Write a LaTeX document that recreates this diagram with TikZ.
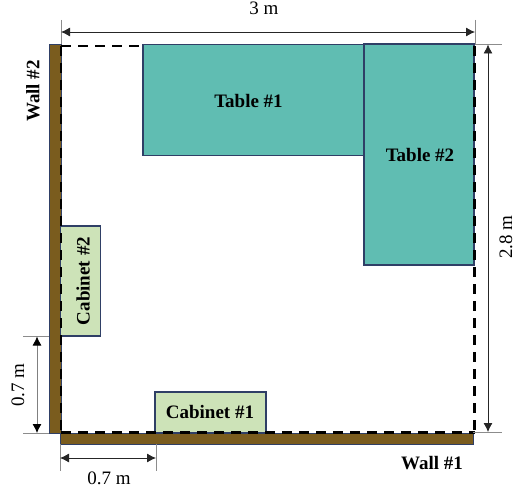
\documentclass[tikz,border=0pt]{standalone}
\usepackage{fontspec}
\setmainfont{Liberation Serif}
\usetikzlibrary{arrows.meta}
\definecolor{edgeblue}{HTML}{2F3F66}
\definecolor{tealfill}{HTML}{60BDB2}
\definecolor{cabfill}{HTML}{CDE3B8}
\definecolor{wallfill}{HTML}{7A5C1E}
\definecolor{extgray}{HTML}{8C8C8C}
\tikzset{
  x=1pt,y=-1pt,
  furniture/.style={draw=edgeblue,line width=1.1pt,inner sep=0pt,text=black},
  tablebox/.style={furniture,fill=tealfill},
  cabinetbox/.style={furniture,fill=cabfill},
  wallbox/.style={draw=edgeblue,line width=0.9pt,fill=wallfill,inner sep=0pt},
  boldlabel/.style={font=\bfseries\fontsize{19}{21}\selectfont,inner sep=0pt,text=black},
  dimlabel/.style={font=\fontsize{19}{21}\selectfont,inner sep=0pt,text=black},
  boundary/.style={line width=2.1pt,black,dash pattern=on 10pt off 7pt},
  extline/.style={line width=0.8pt,extgray},
  dimline/.style={line width=0.8pt,black!85,{Latex[length=9pt,width=9pt]}-{Latex[length=9pt,width=9pt]}},
  greydim/.style={dimline,draw=black!50,{Latex[length=9pt,width=9pt,black]}-{Latex[length=9pt,width=9pt,black]}},
}
\begin{document}
\begin{tikzpicture}
\useasboundingbox (0,0) rectangle (530,500);
% walls
\node[wallbox,minimum width=12pt,minimum height=389pt] (wallB) at (55,238.5) {};
\node[wallbox,minimum width=413pt,minimum height=11pt] (wallA) at (266.5,438.5) {};
% furniture
\node[tablebox,minimum width=221pt,minimum height=111pt] (tableA) at (253.5,100) {};
\node[tablebox,minimum width=110pt,minimum height=221pt] (tableB) at (419,154.5) {};
\node[cabinetbox,minimum width=111pt,minimum height=41pt] (cabA) at (210.5,412.5) {};
\node[cabinetbox,minimum width=40pt,minimum height=110pt] (cabB) at (80.5,281) {};
\node[boldlabel] (tableAtext) at (248.5,101) {Table \#1};
\node[boldlabel] (tableBtext) at (420,155) {Table \#2};
\node[boldlabel] (cabAtext) at (210,412) {Cabinet \#1};
\node[boldlabel,rotate=90] (cabBtext) at (83,281) {Cabinet \#2};
% boundary corners
\coordinate (tl) at (61,46);
\coordinate (tlend) at (140,46);
\coordinate (tr) at (474.5,46);
\coordinate (br) at (474.5,432.5);
\coordinate (bl) at (61,432.5);
\draw[boundary] (tl) -- (tlend);
\draw[boundary] (tl) -- (bl);
\draw[boundary] (bl) -- (br);
\draw[boundary] (tr) -- (br);
% extension lines
\coordinate (e1a) at (61,20); \coordinate (e1b) at (61,44);
\coordinate (e2a) at (475,20); \coordinate (e2b) at (475,44);
\coordinate (e3a) at (475,44); \coordinate (e3b) at (502,44);
\coordinate (e4a) at (473,432.5); \coordinate (e4b) at (502,432.5);
\coordinate (e5a) at (23,336); \coordinate (e5b) at (49,336);
\coordinate (e6a) at (23,433); \coordinate (e6b) at (49,433);
\coordinate (e7a) at (60,444); \coordinate (e7b) at (60,471);
\coordinate (e8a) at (156,444); \coordinate (e8b) at (156,471);
\foreach \p/\q in {e1a/e1b,e2a/e2b,e3a/e3b,e4a/e4b,e5a/e5b,e6a/e6b,e7a/e7b,e8a/e8b}
  \draw[extline] (\p) -- (\q);
% dimensions
\coordinate (d1a) at (61,32); \coordinate (d1b) at (475,32);
\coordinate (d2a) at (488,44.5); \coordinate (d2b) at (488,432);
\coordinate (d3a) at (37,336.5); \coordinate (d3b) at (37,433);
\coordinate (d4a) at (60,458); \coordinate (d4b) at (156,458);
\draw[dimline] (d1a) -- (d1b);
\draw[dimline] (d2a) -- (d2b);
\draw[greydim] (d3a) -- (d3b);
\draw[dimline] (d4a) -- (d4b);
% labels
\node[dimlabel] (l3m) at (264,8) {3 m};
\node[dimlabel,rotate=90] (l28) at (506,237) {2.8 m};
\node[dimlabel,rotate=90] (l07v) at (18,385) {0.7 m};
\node[dimlabel] (l07h) at (109,478) {0.7 m};
\node[boldlabel,rotate=90] (w2) at (33,91) {Wall \#2};
\node[boldlabel] (w1) at (432,463) {Wall \#1};
\end{tikzpicture}
\end{document}
